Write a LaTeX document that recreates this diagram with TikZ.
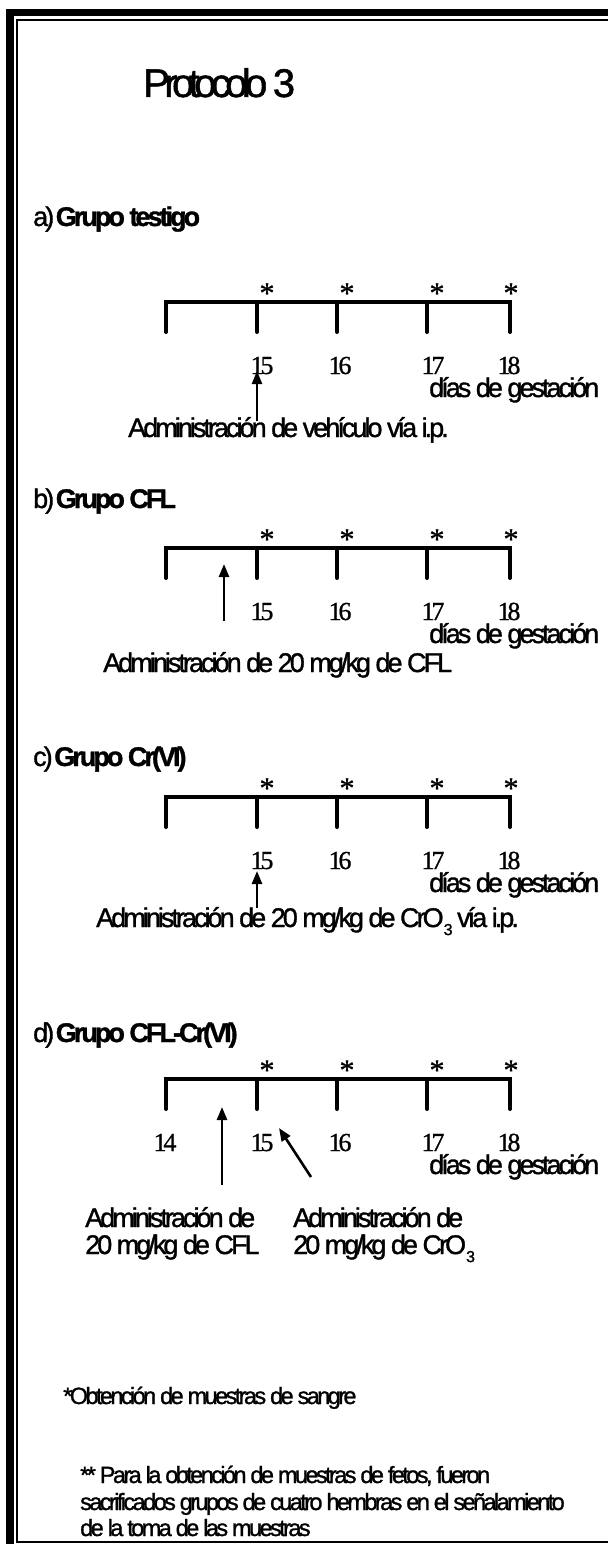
\documentclass[tikz,border=0pt]{standalone}
\usepackage{fontspec}
\setmainfont{Liberation Sans}
\newfontfamily\af[LetterSpace=-11,FakeBold=1.2]{Liberation Sans}
\newfontfamily\ttlfont[LetterSpace=-14,FakeBold=1.2]{Liberation Sans}
\newfontfamily\numfont[LetterSpace=-12,FakeBold=0.8]{Liberation Serif}
\usetikzlibrary{arrows.meta}
\newcommand{\subthree}{\raisebox{-0.3em}{\fontsize{16}{16}\selectfont 3}}
\tikzset{
  tl/.style={line width=4pt, line cap=round, line join=miter},
  astr/.style={font=\numfont\fontsize{30}{30}\selectfont, anchor=base, inner sep=0pt},
  num/.style={font=\numfont\fontsize{26}{26}\selectfont, anchor=base, inner sep=0pt},
  lbl/.style={font=\af\fontsize{27}{30}\selectfont, anchor=base west, inner sep=0pt},
  grp/.style={font=\af\fontsize{27}{30}\selectfont, anchor=base west, inner sep=0pt},
  foot/.style={font=\af\fontsize{23.5}{28}\selectfont, anchor=base west, inner sep=0pt},
  arr/.style={-{Triangle[width=10pt,length=13pt]}, line width=2.6pt},
  frm/.style={fill=black, draw=none},
}
\begin{document}
\begin{tikzpicture}[x=1pt,y=-1pt]
\useasboundingbox (0,0) rectangle (608,1546);
\fill[white] (0,0) rectangle (608,1546);
% frame
\fill[frm] (6,9) rectangle (608,16);
\fill[frm] (16,19) rectangle (608,21);
\fill[frm] (6,9) rectangle (14,1544);
\fill[frm] (16,19) rectangle (18,1543);
\fill[frm] (16,1541) rectangle (608,1543);
% title
\node[font=\ttlfont\fontsize{40}{42}\selectfont, anchor=base west, inner sep=0pt] (title) at (143,97) {Protocolo 3};
% group labels
\node[grp] (ga) at (33,226) {a) \textbf{Grupo testigo}};
\node[grp] (gb) at (33,508) {b) \textbf{Grupo CFL}};
\node[grp] (gc) at (33,766) {c) \textbf{Grupo Cr(VI)}};
\node[grp] (gd) at (33,1042) {d) \textbf{Grupo CFL-Cr(VI)}};
% timelines
\foreach \n/\Y in {a/302, b/548, c/797, d/1079}{
  \draw[tl] (166,\Y+30) -- (166,\Y) -- (510,\Y) -- (510,\Y+30);
  \foreach \x in {257,337,427}{ \draw[tl] (\x,\Y) -- (\x,\Y+30); }
  \node[astr] (\n s15) at (267,\Y+1) {*};
  \node[astr] (\n s16) at (347,\Y+1) {*};
  \node[astr] (\n s17) at (437,\Y+1) {*};
  \node[astr] (\n s18) at (511,\Y+1) {*};
  \node[num] (\n n15) at (262,\Y+72) {15};
  \node[num] (\n n16) at (340,\Y+72) {16};
  \node[num] (\n n17) at (433,\Y+72) {17};
  \node[num] (\n n18) at (509,\Y+72) {18};
  \node[lbl] (\n dias) at (429,\Y+95) {días de gestación};
}
\node[num] (dn14) at (165,1151) {14};
% a
\node[lbl] (ta) at (128,437) {Administración de vehículo vía i.p.};
\coordinate (aT) at (257,421);
\coordinate (aH) at (257,371);
\draw[arr] (aT) -- (aH);
% b
\node[lbl] (tb) at (103,672) {Administración de 20 mg/kg de CFL};
\coordinate (bT) at (224,621);
\coordinate (bH) at (224,564);
\draw[arr] (bT) -- (bH);
% c
\node[lbl] (tc) at (96,927) {Administración de 20 mg/kg de CrO\subthree{} vía i.p.};
\coordinate (cT) at (257,908);
\coordinate (cH) at (257,871);
\draw[arr] (cT) -- (cH);
% d
\node[lbl] (td1) at (85,1227) {Administración de};
\node[lbl] (td2) at (85,1254) {20 mg/kg de CFL};
\node[lbl] (td3) at (293,1227) {Administración de};
\node[lbl] (td4) at (293,1254) {20 mg/kg de CrO\subthree};
\coordinate (dT1) at (222,1185);
\coordinate (dH1) at (222,1107);
\draw[arr] (dT1) -- (dH1);
\coordinate (dT2) at (311,1177);
\coordinate (dH2) at (279,1128);
\draw[arr] (dT2) -- (dH2);
% footnotes
\node[foot] (f1) at (63,1404) {*Obtención de muestras de sangre};
\node[foot] (f2) at (80,1483) {** Para la obtención de muestras de fetos, fueron};
\node[foot] (f3) at (80,1510) {sacrificados grupos de cuatro hembras en el señalamiento};
\node[foot] (f4) at (80,1536) {de la toma de las muestras};
\end{tikzpicture}
\end{document}
